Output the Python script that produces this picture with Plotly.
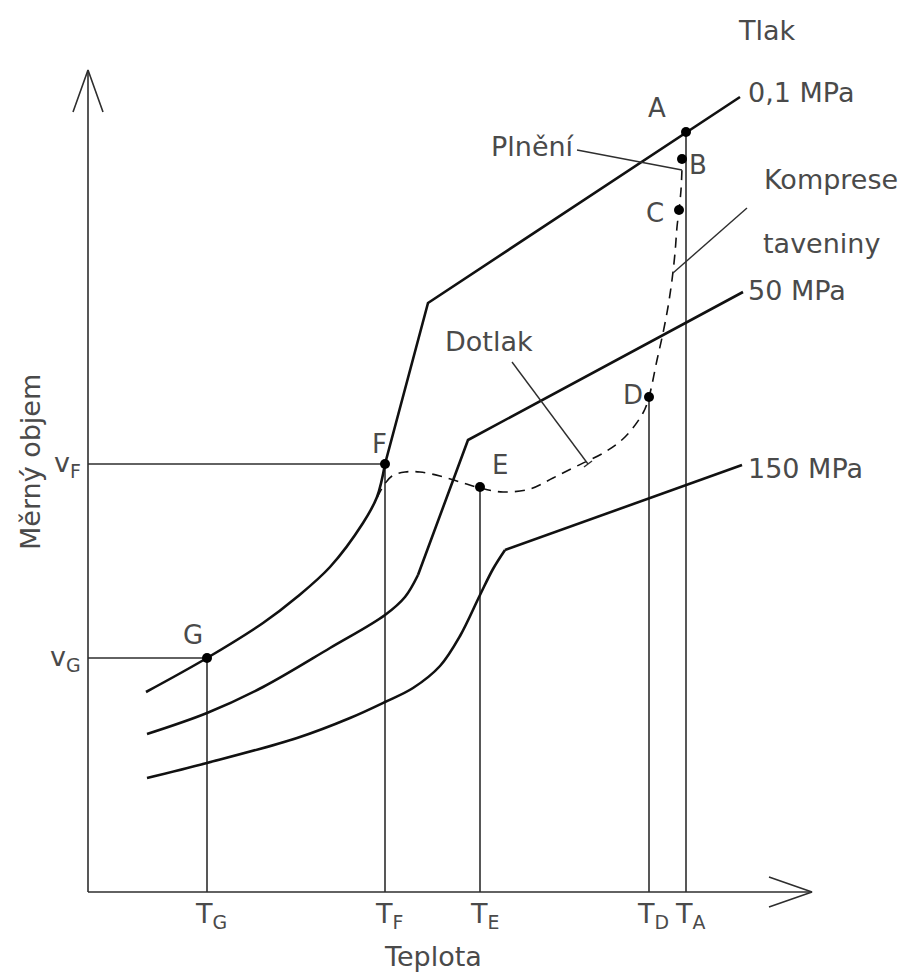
import plotly.graph_objects as go

# ---------------- data (diagram units: T to the right, v upward) ----------------
W, H = 909, 976
PAGE_MARGIN = 8  # default body margin of the html page

# isobar 0.1 MPa
iso01_curve_T = [146, 207, 263, 297, 330, 363, 377, 385]
iso01_curve_v = [284, 318, 353, 379, 409, 453, 479, 512]
iso01_line_T = [385, 428, 740]
iso01_line_v = [512, 673, 879]

# isobar 50 MPa
iso50_curve_T = [147, 207, 263, 330, 385, 405, 418]
iso50_curve_v = [242, 263, 289, 328, 361, 379, 401]
iso50_line_T = [418, 468, 743]
iso50_line_v = [401, 536, 684]

# isobar 150 MPa
iso150_curve_T = [147, 207, 297, 350, 385, 413, 440, 460, 480, 493, 505]
iso150_curve_v = [198, 213, 238, 258, 274, 288, 310, 340, 381, 407, 426]
iso150_line_T = [505, 742]
iso150_line_v = [426, 511]

# injection-moulding process path (dashed)
path_T = [377, 384, 392, 405, 420, 440, 460, 480, 503, 530, 553, 577, 605, 625,
          643, 649, 657, 663, 668, 672, 675, 677, 679, 681, 682]
path_v = [478, 491, 500, 504, 504, 500, 494, 488, 484, 487, 498, 510, 524, 539,
          563, 579, 616, 643, 669, 696, 723, 749, 766, 786, 808]

# state points
pt_names = ["A", "B", "C", "D", "E", "F", "G"]
pt_T = [686, 682, 679, 649, 480, 385, 207]
pt_v = [844, 817, 766, 579, 489, 512, 318]
pt_label_T = [657, 698, 655, 633, 500, 379, 193]
pt_label_v = [868, 811, 763, 581, 511, 532, 341]

# points projected to the T axis and v axis
drop_T_names = ["A", "D", "E", "F", "G"]
tick_T_labels = ["T<sub>A</sub>", "T<sub>D</sub>", "T<sub>E</sub>", "T<sub>F</sub>", "T<sub>G</sub>"]
drop_v_names = ["F", "G"]
tick_v_labels = ["v<sub>F</sub>", "v<sub>G</sub>"]

# axes
origin_T, origin_v = 88, 84
axis_T_end, axis_v_end = 812, 906

isobar_labels = ["0,1 MPa", "50 MPa", "150 MPa"]
isobar_label_v = [884, 686, 508]

# ---------------- figure ----------------
INK = "#111111"
THIN = "#2e2e2e"
TXT = "#4a4a4a"
FONT = "DejaVu Sans"

fig = go.Figure()

def line(x, y, width=1.6, color=THIN, dash=None, shape="linear"):
    fig.add_trace(go.Scatter(x=x, y=y, mode="lines", hoverinfo="skip",
                             line=dict(color=color, width=width, dash=dash, shape=shape),
                             showlegend=False))

idx = {n: i for i, n in enumerate(pt_names)}

# axes with open arrow heads
line([origin_T, origin_T], [origin_v, axis_v_end], width=1.6)
line([origin_T, axis_T_end], [origin_v, origin_v], width=1.6)
line([origin_T - 15, origin_T, origin_T + 15], [axis_v_end - 42, axis_v_end, axis_v_end - 42], width=1.6)
line([axis_T_end - 43, axis_T_end, axis_T_end - 43], [origin_v + 15, origin_v, origin_v - 15], width=1.6)

# drop lines
for n in drop_T_names:
    i = idx[n]
    line([pt_T[i], pt_T[i]], [pt_v[i], origin_v], width=1.6)
for n in drop_v_names:
    i = idx[n]
    line([origin_T, pt_T[i]], [pt_v[i], pt_v[i]], width=1.6)

# isobars
for cT, cv, lT, lv in [(iso01_curve_T, iso01_curve_v, iso01_line_T, iso01_line_v),
                       (iso50_curve_T, iso50_curve_v, iso50_line_T, iso50_line_v),
                       (iso150_curve_T, iso150_curve_v, iso150_line_T, iso150_line_v)]:
    line(cT, cv, width=2.6, color=INK, shape="spline")
    line(lT, lv, width=2.6, color=INK)

# process path
line(path_T, path_v, width=1.6, color=INK, dash="10px,7px", shape="spline")

# leader lines
line([577, 682], [826, 806], width=1.4)           # Plnění
line([747, 673], [768, 703], width=1.4)           # Komprese taveniny
line([512, 588], [614, 512], width=1.4)           # Dotlak
line([584, 592], [509, 515], width=1.4)

# state points
fig.add_trace(go.Scatter(x=pt_T, y=pt_v, mode="markers", hoverinfo="skip",
                         marker=dict(color="black", size=10), showlegend=False))

ann = []
def text(x, y, s, size=28, xanchor="center", yanchor="middle", angle=0):
    ann.append(dict(x=x, y=y, text=s, showarrow=False, xanchor=xanchor, yanchor=yanchor,
                    textangle=angle, font=dict(family=FONT, size=size, color=TXT)))

for n, x, y in zip(pt_names, pt_label_T, pt_label_v):
    text(x, y, n, size=26)

for n, s in zip(drop_T_names, tick_T_labels):
    text(pt_T[idx[n]] + 4, origin_v - 4, s, size=27, yanchor="top")
for n, s in zip(drop_v_names, tick_v_labels):
    text(origin_T - 5, pt_v[idx[n]], s, size=27, xanchor="right")

for s, y in zip(isobar_labels, isobar_label_v):
    text(746, y, s, size=27, xanchor="left")

text(767, 946, "Tlak", size=27)
text(831, 797, "Komprese", size=27)
text(821, 733, "taveniny", size=27)
text(577, 830, "Plnění", size=27, xanchor="right")
text(489, 635, "Dotlak", size=27)
text(433, 20, "Teplota", size=27)
text(30, 514, "Měrný objem", size=27, angle=-90)

fig.update_layout(
    width=W, height=H, margin=dict(l=0, r=0, t=0, b=0),
    paper_bgcolor="white", plot_bgcolor="white",
    xaxis=dict(range=[PAGE_MARGIN, W + PAGE_MARGIN], visible=False, fixedrange=True),
    yaxis=dict(range=[-PAGE_MARGIN, H - PAGE_MARGIN], visible=False, fixedrange=True),
    annotations=ann,
)

fig.write_html("out.html")
